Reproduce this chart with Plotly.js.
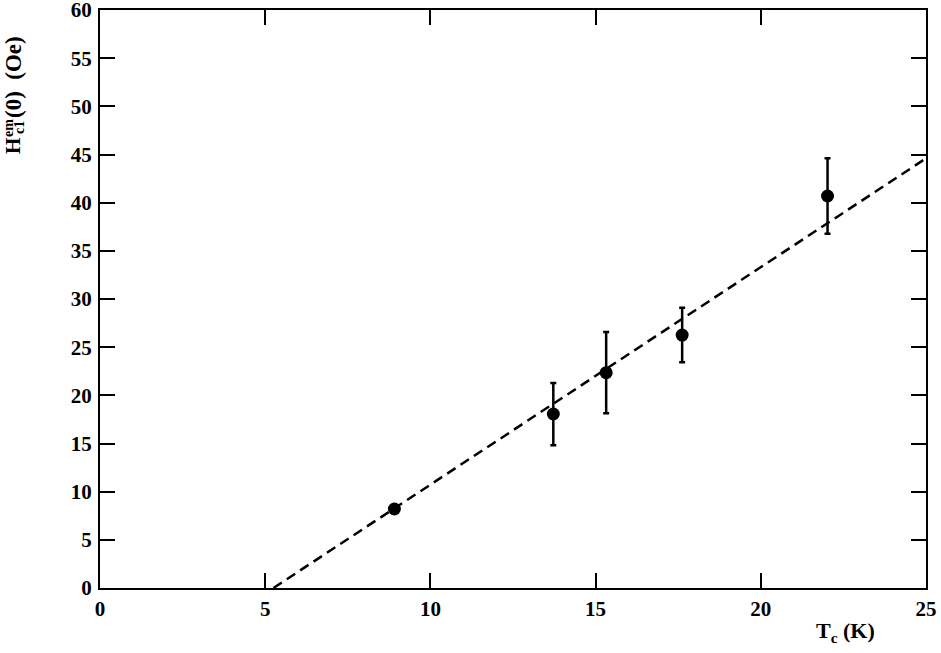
<!DOCTYPE html>
<html>
<head>
<meta charset="utf-8">
<script src="https://cdn.plot.ly/plotly-3.0.1.min.js"></script>
<style>html,body{margin:0;padding:0;background:#fff;}#chart{width:941px;height:653px;}</style>
</head>
<body>
<div id="chart"></div>
<script>
// Data
const tc = [8.91, 13.72, 15.32, 17.62, 22.02];
const hc1 = [8.2, 18.06, 22.35, 26.26, 40.69];
const hc1Err = [0, 3.23, 4.22, 2.83, 3.92];
const fitX = [5.25, 25];
const fitY = [0, 44.6];
const xTicks = [0, 5, 10, 15, 20, 25];
const yTicks = [0, 5, 10, 15, 20, 25, 30, 35, 40, 45, 50, 55, 60];

const F = 'Liberation Serif';
const L = 100, R = 15, T = 10, B = 65, W = 941, H = 653;
const pw = W - L - R, ph = H - T - B;
const px = v => (v - L) / pw;
const py = v => (H - B - v) / ph;
const bold = arr => arr.map(v => '<b>' + v + '</b>');

const traces = [
  {x: fitX, y: fitY, mode: 'lines', type: 'scatter',
   line: {color: '#000', width: 2.5, dash: '10px,6px'}, hoverinfo: 'skip'},
  {x: tc, y: hc1, mode: 'markers', type: 'scatter',
   marker: {color: '#000', size: 13, symbol: 'circle'},
   error_y: {type: 'data', array: hc1Err, visible: true, color: '#000', thickness: 2.5, width: 3}}
];

const axisCommon = {
  showline: true, linecolor: '#000', linewidth: 2, mirror: 'ticks',
  ticks: 'inside', ticklen: 15, tickwidth: 2, tickcolor: '#000',
  showgrid: false, zeroline: false, ticklabeloverflow: 'allow',
  tickfont: {family: F, size: 21, color: '#000'}
};

const ann = (text, x, y, size, angle) => ({
  text: text, xref: 'paper', yref: 'paper', x: px(x), y: py(y),
  xanchor: 'center', yanchor: 'middle', showarrow: false, textangle: angle,
  font: {family: F, size: size, color: '#000'}
});

const layout = {
  width: W, height: H,
  font: {family: F, color: '#000'},
  margin: {l: L, r: R, t: T, b: B, pad: 0},
  paper_bgcolor: '#fff', plot_bgcolor: '#fff',
  showlegend: false,
  xaxis: Object.assign({}, axisCommon, {range: [0, 25], tickvals: xTicks, ticktext: bold(xTicks), ticklabelstandoff: 1}),
  yaxis: Object.assign({}, axisCommon, {range: [0, 60], tickvals: yTicks, ticktext: bold(yTicks), ticklabelstandoff: 2}),
  annotations: [
    ann('<b>H</b>', 13, 146, 21, -90),
    ann('<b>em</b>', 8, 128, 14, -90),
    ann('<b>c1</b>', 19, 128, 14, -90),
    ann('<b>(0)  (Oe)</b>', 13, 77, 23, -90),
    ann('<b>T<sub>c</sub> (K)</b>', 845, 632, 22, 0)
  ]
};

Plotly.newPlot('chart', traces, layout, {displayModeBar: false, staticPlot: true});
</script>
</body>
</html>
